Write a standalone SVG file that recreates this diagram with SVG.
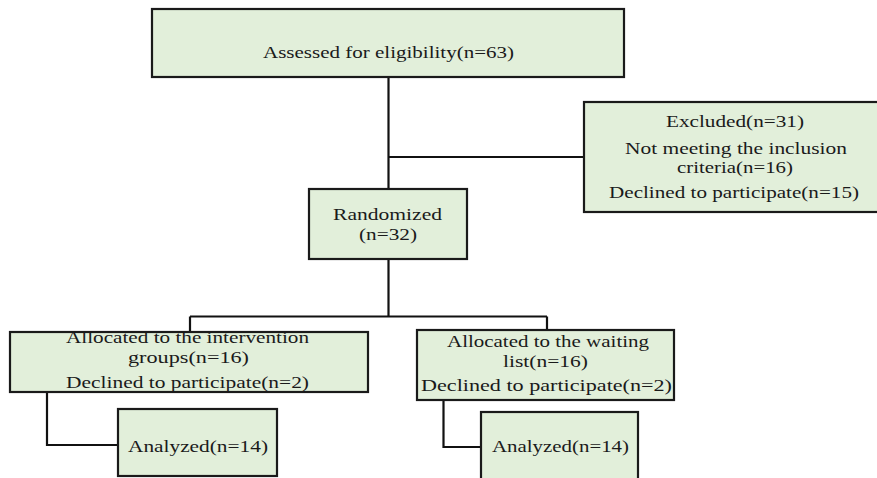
<svg xmlns="http://www.w3.org/2000/svg" width="877" height="478" viewBox="0 0 877 478">
<style>
.box{fill:#E2EFDA;stroke:#1a1a1a;stroke-width:2.2}
.t{font-family:"Liberation Serif","Times New Roman",serif;font-size:17px;fill:#1a1a1a}
.s{font-size:16px}
.c{fill:none;stroke:#111;stroke-width:2.2}
</style>
<rect x="0" y="0" width="877" height="478" fill="#ffffff"/>
<g id="connectors">
<path class="c" d="M388.5 77 V189"/>
<path class="c" d="M388.5 157 H584"/>
<path class="c" d="M388.5 259 V316.5 M190 316.5 H547 M190 316.5 V332 M547 316.5 V330"/>
<path class="c" d="M47 392 V445 H118"/>
<path class="c" d="M443.5 400 V447 H481"/>
</g>
<g id="assessed">
<rect class="box" x="152" y="9" width="472" height="68"/>
<text class="t" x="263" y="57.5" textLength="251" lengthAdjust="spacingAndGlyphs">Assessed for eligibility(n=63)</text>
</g>
<g id="excluded">
<rect class="box" x="584" y="102" width="300" height="110"/>
<text class="t" x="666" y="127" textLength="138" lengthAdjust="spacingAndGlyphs">Excluded(n=31)</text>
<text class="t" x="625" y="154" textLength="222" lengthAdjust="spacingAndGlyphs">Not meeting  the inclusion</text>
<text class="t" x="677" y="172.5" textLength="116" lengthAdjust="spacingAndGlyphs">criteria(n=16)</text>
<text class="t" x="609" y="198" textLength="250" lengthAdjust="spacingAndGlyphs">Declined  to  participate(n=15)</text>
</g>
<g id="randomized">
<rect class="box" x="309" y="189" width="158" height="70"/>
<text class="t" x="333" y="220" textLength="109" lengthAdjust="spacingAndGlyphs">Randomized</text>
<text class="t" x="359" y="240" textLength="58" lengthAdjust="spacingAndGlyphs">(n=32)</text>
</g>
<g id="intervention">
<rect class="box" x="10" y="332" width="358" height="60"/>
<text class="t s" x="66" y="343" textLength="243" lengthAdjust="spacingAndGlyphs">Allocated  to the intervention</text>
<text class="t s" x="128" y="362.5" textLength="121" lengthAdjust="spacingAndGlyphs">groups(n=16)</text>
<text class="t" x="66" y="388" textLength="243" lengthAdjust="spacingAndGlyphs">Declined  to  participate(n=2)</text>
</g>
<g id="waiting">
<rect class="box" x="417" y="330" width="257" height="70"/>
<text class="t" x="447" y="347" textLength="202" lengthAdjust="spacingAndGlyphs">Allocated  to the waiting</text>
<text class="t" x="503" y="367" textLength="85" lengthAdjust="spacingAndGlyphs">list(n=16)</text>
<text class="t" x="421" y="390.5" textLength="251" lengthAdjust="spacingAndGlyphs">Declined  to  participate(n=2)</text>
</g>
<g id="analyzed1">
<rect class="box" x="118" y="409" width="159" height="67"/>
<text class="t" x="128" y="451.5" textLength="140" lengthAdjust="spacingAndGlyphs">Analyzed(n=14)</text>
</g>
<g id="analyzed2">
<rect class="box" x="481" y="412" width="157" height="70"/>
<text class="t" x="492" y="452" textLength="137" lengthAdjust="spacingAndGlyphs">Analyzed(n=14)</text>
</g>
</svg>
